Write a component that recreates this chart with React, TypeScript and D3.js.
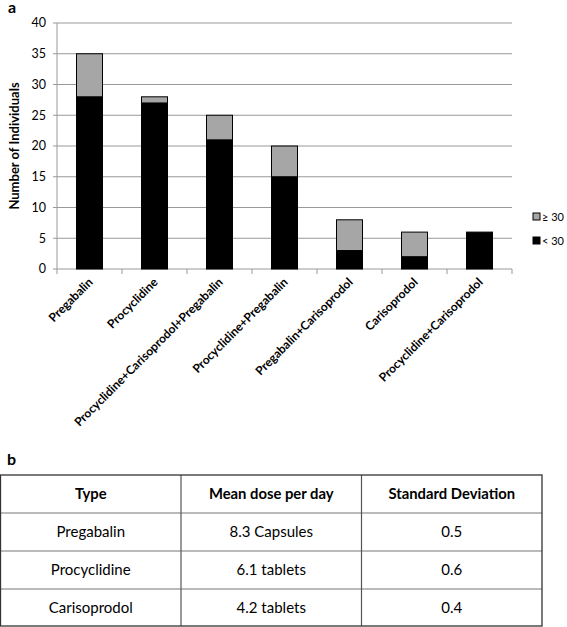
import React from "react";
import * as d3 from "d3";

const categories = [
  "Pregabalin",
  "Procyclidine",
  "Procyclidine+Carisoprodol+Pregabalin",
  "Procyclidine+Pregabalin",
  "Pregabalin+Carisoprodol",
  "Carisoprodol",
  "Procyclidine+Carisoprodol",
];
const below30 = [28, 27, 21, 15, 3, 2, 6];
const atLeast30 = [7, 1, 4, 5, 5, 4, 0];
const yTicks = [0, 5, 10, 15, 20, 25, 30, 35, 40];
const seriesNames = ["≥ 30", "< 30"];

const tableHeader = ["Type", "Mean dose per day", "Standard Deviation"];
const tableTypes = ["Pregabalin", "Procyclidine", "Carisoprodol"];
const tableMeans = ["8.3 Capsules", "6.1 tablets", "4.2 tablets"];
const tableSD = ["0.5", "0.6", "0.4"];

const FONT = "Lato, 'Open Sans', sans-serif";

export default function App() {
  const W = 567;
  const H = 627;
  const x = d3
    .scaleBand<string>()
    .domain(categories)
    .range([57, 512])
    .paddingInner(0.6)
    .paddingOuter(0.3);
  const step = x.step();
  const y = d3.scaleLinear().domain([0, 40]).range([269, 23]);

  const stacked = d3
    .stack<number>()
    .keys(["below", "above"])
    .value((i, k) => (k === "below" ? below30[i] : atLeast30[i]))(
    categories.map((_, i) => i)
  );
  const colors: Record<string, string> = { below: "#000000", above: "#a6a6a6" };

  const gridColor = "#999999";

  // table layout
  const tx = d3.scaleBand<number>().domain([0, 1, 2]).range([0.5, 542]);
  const rows = [tableHeader, ...tableTypes.map((t, i) => [t, tableMeans[i], tableSD[i]])];
  const ty = d3.scaleBand<number>().domain(rows.map((_, i) => i)).range([475, 627]);

  return (
    <div style={{ position: "absolute", left: 0, top: 0 }}>
      <svg width={W} height={H} style={{ display: "block", background: "#fff" }} fontFamily={FONT}>
        <text x={8} y={13} fontSize={16} fontWeight="bold">a</text>

        {/* gridlines */}
        {yTicks.map((t) => (
          <line key={t} x1={57} x2={512} y1={y(t)} y2={y(t)} stroke={gridColor} strokeWidth={1} />
        ))}
        {/* y axis */}
        <line x1={57} x2={57} y1={y(40)} y2={y(0)} stroke={gridColor} strokeWidth={1} />
        {yTicks.map((t) => (
          <g key={"yt" + t}>
            <line x1={53} x2={57} y1={y(t)} y2={y(t)} stroke={gridColor} />
            <text x={46} y={y(t)} dy="0.35em" textAnchor="end" fontSize={12.5} fill="#000">
              {t}
            </text>
          </g>
        ))}
        <text
          transform={`translate(19,${(y(0) + y(40)) / 2}) rotate(-90)`}
          textAnchor="middle"
          fontSize={13}
          fontWeight="bold"
        >
          Number of Individuals
        </text>

        {/* x ticks */}
        {d3.range(categories.length + 1).map((i) => {
          const xx = 57 + i * step;
          return <line key={"xt" + i} x1={xx} x2={xx} y1={y(0)} y2={y(0) + 5} stroke={gridColor} />;
        })}

        {/* bars */}
        {stacked.map((s) =>
          s.map((d, i) =>
            d[1] - d[0] > 0 ? (
              <rect
                key={s.key + i}
                x={x(categories[i])!}
                y={y(d[1])}
                width={x.bandwidth()}
                height={y(d[0]) - y(d[1])}
                fill={colors[s.key]}
                stroke="#000"
                strokeWidth={1}
              />
            ) : null
          )
        )}

        {/* category labels */}
        {categories.map((c) => {
          const cx = x(c)! + x.bandwidth() / 2 + 4;
          return (
            <text
              key={"cl" + c}
              transform={`translate(${cx},${y(0) + 14}) rotate(-45)`}
              textAnchor="end"
              fontSize={12}
              fontWeight="bold"
            >
              {c}
            </text>
          );
        })}

        {/* legend */}
        {seriesNames.map((n, i) => (
          <g key={n} transform={`translate(533,${213 + i * 24})`}>
            <rect x={0} y={0} width={7} height={7} fill={i === 0 ? colors.above : colors.below} stroke="#000" strokeWidth={1} />
            <text x={9} y={7.5} fontSize={11}>{n}</text>
          </g>
        ))}

        {/* table */}
        <text x={7} y={465} fontSize={16} fontWeight="bold">b</text>
        {rows.map((r, ri) =>
          r.map((cell, ci) => (
            <text
              key={ri + "-" + ci}
              x={tx(ci)! + tx.bandwidth() / 2}
              y={ty(ri)! + ty.bandwidth() / 2}
              dy="0.35em"
              textAnchor="middle"
              fontSize={ri === 0 ? 14.8 : 15}
              fontWeight={ri === 0 ? "bold" : "normal"}
            >
              {cell}
            </text>
          ))
        )}
        {rows.slice(1).map((_, i) => (
          <line key={"rl" + i} x1={0.5} x2={542} y1={ty(i + 1)!} y2={ty(i + 1)!} stroke="#777" strokeWidth={1.2} />
        ))}
        {[1, 2].map((ci) => (
          <line key={"cl" + ci} x1={tx(ci)!} x2={tx(ci)!} y1={475} y2={626} stroke="#555" strokeWidth={1.2} />
        ))}
        <rect x={0.5} y={475} width={541.5} height={151} fill="none" stroke="#333" strokeWidth={1.3} />
      </svg>
    </div>
  );
}
